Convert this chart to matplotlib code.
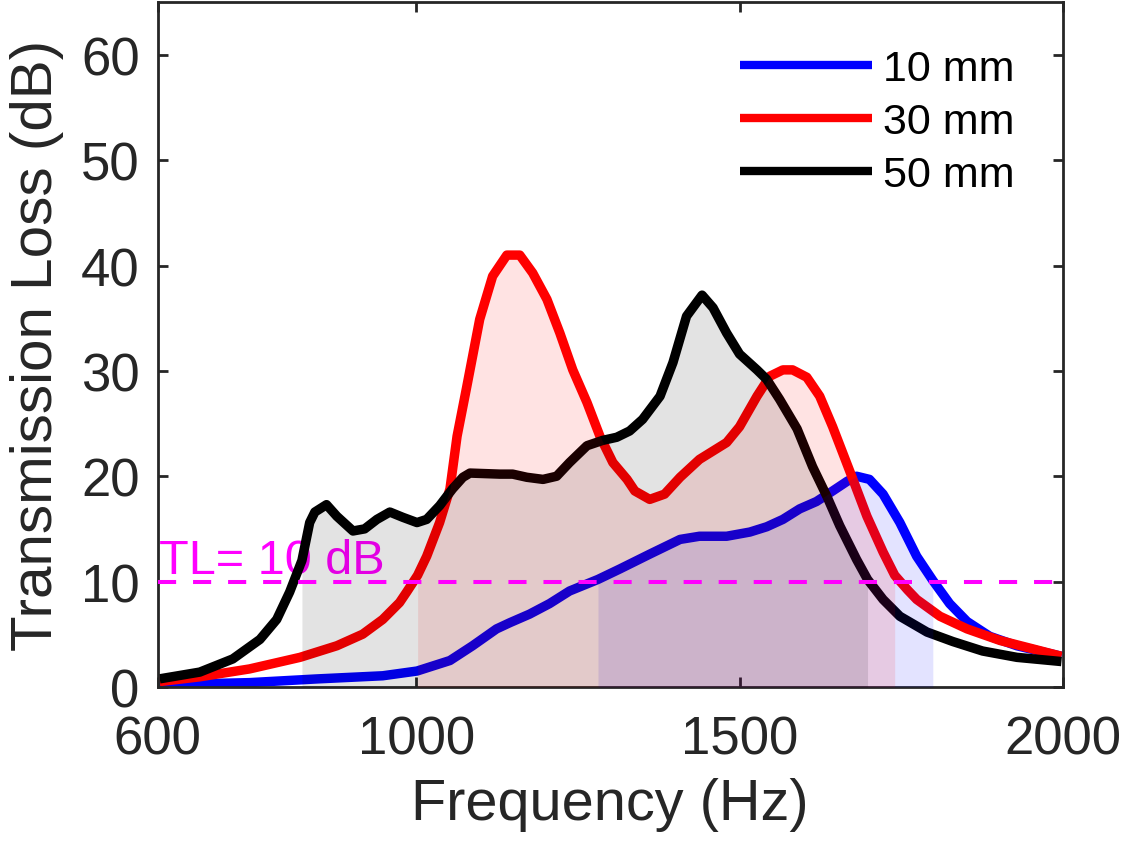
import matplotlib
matplotlib.use("Agg")
import matplotlib.pyplot as plt
import numpy as np

plt.rcParams['font.family'] = ['Liberation Sans', 'DejaVu Sans']

# 10 mm
f_10 = [603, 742, 846, 948, 1001, 1052, 1087, 1124, 1145, 1175, 1206, 1237, 1281,
        1315, 1361, 1408, 1438, 1480, 1516, 1542, 1567, 1593, 1619, 1644, 1666,
        1681, 1701, 1722, 1748, 1774, 1799, 1825, 1852, 1887, 1929, 1998]
tl_10 = [0.2, 0.4, 0.75, 1.05, 1.5, 2.5, 3.9, 5.5, 6.1, 6.9, 7.9, 9.1, 10.2,
         11.2, 12.6, 14.0, 14.3, 14.3, 14.7, 15.2, 15.9, 16.9, 17.6, 18.6, 19.5,
         20.0, 19.7, 18.3, 15.6, 12.4, 10.1, 7.9, 6.2, 4.8, 3.9, 2.9]

# 30 mm
f_30 = [603, 665, 742, 820, 877, 917, 948, 974, 985, 1002, 1016, 1036, 1052, 1063,
        1078, 1098, 1118, 1140, 1160, 1180, 1202, 1222, 1242, 1264, 1284, 1304,
        1326, 1338, 1361, 1384, 1408, 1438, 1480, 1500, 1527, 1547, 1567, 1582,
        1604, 1624, 1644, 1671, 1697, 1722, 1740, 1760, 1774, 1810, 1852, 1903,
        1954, 1998]
tl_30 = [0.5, 0.95, 1.7, 2.8, 3.9, 5.0, 6.4, 8.0, 9.0, 10.6, 12.4, 15.6, 18.8, 23.8,
         28.5, 34.9, 39.0, 41.0, 41.0, 39.3, 36.8, 33.6, 30.1, 27.0, 23.8, 21.3,
         19.7, 18.6, 17.8, 18.3, 19.9, 21.6, 23.2, 24.7, 27.6, 29.5, 30.1, 30.1,
         29.4, 27.6, 24.7, 20.4, 16.2, 12.8, 10.6, 9.2, 8.3, 6.7, 5.5, 4.4,
         3.6, 2.9]

# 50 mm
f_50 = [603, 665, 716, 758, 784, 804, 823, 835, 843, 861, 877, 902, 920, 939, 959,
        979, 1001, 1016, 1036, 1056, 1072, 1083, 1129, 1149, 1171, 1196, 1217,
        1237, 1264, 1288, 1310, 1330, 1350, 1377, 1397, 1418, 1442, 1459, 1480,
        1500, 1527, 1542, 1562, 1589, 1613, 1635, 1655, 1681, 1698, 1722, 1748,
        1790, 1830, 1876, 1929, 1998]
tl_50 = [0.76, 1.4, 2.65, 4.5, 6.4, 9.0, 12.0, 15.6, 16.6, 17.3, 16.2, 14.8, 15.0,
         15.9, 16.6, 16.1, 15.6, 15.9, 17.2, 18.8, 19.9, 20.3, 20.2, 20.2, 19.9,
         19.7, 20.0, 21.3, 22.9, 23.4, 23.7, 24.3, 25.4, 27.6, 30.8, 35.2, 37.2,
         36.0, 33.6, 31.6, 30.1, 29.2, 27.3, 24.5, 20.9, 18.1, 15.3, 12.1, 10.2,
         8.3, 6.7, 5.2, 4.3, 3.4, 2.8, 2.4]

series = [("10 mm", f_10, tl_10, "#0000FF"),
          ("30 mm", f_30, tl_30, "#FF0000"),
          ("50 mm", f_50, tl_50, "#000000")]

threshold = 10
dark = "#262626"

fig = plt.figure(figsize=(11.27, 8.45), dpi=100)
ax = fig.add_axes([0.140, 0.186, 0.803, 0.810])

for label, f, tl, c in series:
    ax.plot(f, tl, color=c, lw=6.8, label=label, zorder=2,
            solid_joinstyle='round', solid_capstyle='butt')

# shaded band where TL >= 10 dB (drawn over the lines, like the original)
for label, f, tl, c in series:
    f = np.array(f)
    tl = np.array(tl)
    ax.fill_between(f, 0, tl, where=tl >= threshold, color=c, alpha=0.11,
                    lw=0, zorder=3)

ax.axhline(threshold, color="#FF00FF", lw=2.9, dashes=(4.5, 4.2), zorder=4)
ax.text(602, 10.8, "TL= 10 dB", color="#FF00FF", fontsize=35,
        ha='left', va='baseline', zorder=1)

ax.set_xlim(600, 2000)
ax.set_ylim(0, 65)
ax.set_xticks([600, 1000, 1500, 2000])
ax.set_yticks(range(0, 61, 10))
ax.tick_params(direction='in', length=7, width=2, labelsize=38, colors=dark,
               top=True, right=True)
ax.tick_params(axis='x', pad=20)
ax.tick_params(axis='y', pad=13)
for s in ax.spines.values():
    s.set_linewidth(2)
    s.set_color(dark)

ax.set_xlabel("Frequency (Hz)", fontsize=41.5, color=dark, labelpad=9)
ax.set_ylabel("Transmission Loss (dB)", fontsize=42, color=dark, labelpad=12)

leg = ax.legend(loc='upper left', bbox_to_anchor=(0.643, 0.932), frameon=False,
                fontsize=31, handlelength=3.07, handletextpad=0.25,
                labelspacing=0.3, borderpad=0, borderaxespad=0)
for h in leg.get_lines():
    h.set_linewidth(6)

fig.savefig("out.png", dpi=100)
